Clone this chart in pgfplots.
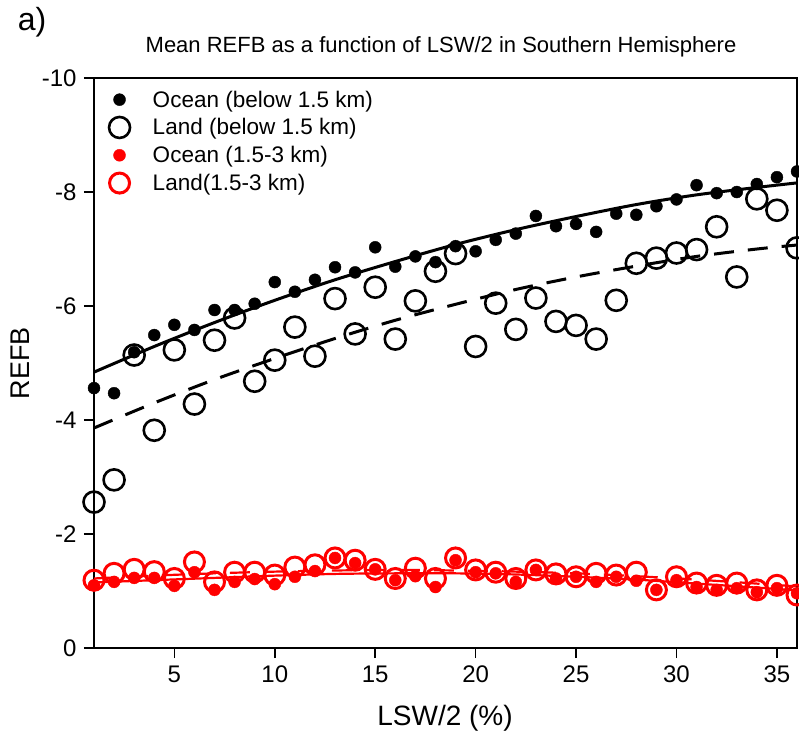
\documentclass[border=0pt]{standalone}
\usepackage{fontspec}
\setmainfont{Liberation Sans}
\usepackage{pgfplots}
\pgfplotsset{compat=1.18}
\usepackage{pgfplotstable}

\pgfplotstableread{
x oc la ocr lar
1 -4.56 -2.56 -1.10 -1.19
2 -4.47 -2.95 -1.16 -1.31
3 -5.19 -5.14 -1.23 -1.38
4 -5.49 -3.82 -1.23 -1.34
5 -5.67 -5.23 -1.09 -1.22
6 -5.58 -4.28 -1.33 -1.51
7 -5.93 -5.40 -1.02 -1.16
8 -5.93 -5.79 -1.16 -1.33
9 -6.04 -4.68 -1.21 -1.33
10 -6.42 -5.05 -1.12 -1.28
11 -6.25 -5.63 -1.25 -1.42
12 -6.46 -5.12 -1.35 -1.46
13 -6.68 -6.13 -1.58 -1.58
14 -6.59 -5.51 -1.49 -1.54
15 -7.03 -6.33 -1.38 -1.38
16 -6.69 -5.42 -1.19 -1.22
17 -6.87 -6.09 -1.26 -1.40
18 -6.77 -6.61 -1.07 -1.22
19 -7.05 -6.92 -1.54 -1.58
20 -6.96 -5.29 -1.33 -1.37
21 -7.16 -6.05 -1.31 -1.33
22 -7.27 -5.59 -1.16 -1.22
23 -7.58 -6.14 -1.37 -1.37
24 -7.40 -5.73 -1.22 -1.30
25 -7.44 -5.66 -1.25 -1.25
26 -7.30 -5.42 -1.16 -1.31
27 -7.62 -6.10 -1.25 -1.28
28 -7.60 -6.75 -1.18 -1.33
29 -7.75 -6.84 -1.02 -1.02
30 -7.87 -6.93 -1.19 -1.25
31 -8.12 -6.99 -1.07 -1.14
32 -7.98 -7.39 -1.02 -1.10
33 -8.00 -6.51 -1.05 -1.14
34 -8.14 -7.88 -0.98 -1.02
35 -8.26 -7.68 -1.05 -1.10
36 -8.36 -7.02 -0.96 -0.93
}\data

\pgfplotstableread{
x ocfit lafit ocrfit larfit
1 -4.84 -3.86 -1.15 -1.22
4 -5.29 -4.30 -1.19 -1.27
7 -5.71 -4.71 -1.23 -1.31
10 -6.10 -5.08 -1.27 -1.34
13 -6.46 -5.43 -1.30 -1.36
16 -6.78 -5.75 -1.31 -1.37
19 -7.08 -6.03 -1.31 -1.36
22 -7.34 -6.29 -1.29 -1.34
25 -7.57 -6.51 -1.25 -1.31
28 -7.78 -6.70 -1.20 -1.26
31 -7.95 -6.87 -1.13 -1.20
34 -8.08 -7.00 -1.06 -1.13
36 -8.16 -7.07 -1.01 -1.08
}\fits

\begin{document}
\begin{tikzpicture}[x=1pt,y=1pt]
\begin{axis}[
  at={(0,0)}, anchor=south west,
  width=703pt, height=570pt, scale only axis,
  xmin=1, xmax=36, ymin=-10, ymax=0,
  y dir=reverse,
  xtick={5,10,...,35},
  ytick={0,-2,-4,-6,-8,-10},
  tick align=outside,
  major tick length=10pt,
  axis line style={line width=1.6pt},
  tick style={line width=1.6pt, black},
  xtick pos=bottom, ytick pos=left,
  /pgf/number format/assume math mode=true,
  tick label style={font=\fontsize{24}{28}\selectfont},
  xticklabel style={yshift=-4pt},
  yticklabel style={xshift=-4pt},
  clip=false,
  legend style={at={(0.015,0.985)}, anchor=north west, draw=none, fill=none,
    font=\fontsize{22.5}{26}\selectfont, row sep=6pt},
  legend cell align=left,
  legend image code/.code={\draw[#1] plot coordinates {(12pt,0pt)}; \node[draw=none, fill=none, inner sep=0pt, minimum width=43pt, minimum height=1pt, anchor=west] at (0pt,0pt) {};},
]
% fit lines
\addplot[black, line width=3pt, no marks, smooth, forget plot] table[x=x, y=ocfit] {\fits};
\addplot[black, line width=3pt, no marks, smooth, dash pattern=on 20pt off 14pt, forget plot] table[x=x, y=lafit] {\fits};
\addplot[red, line width=2.2pt, no marks, smooth, forget plot] table[x=x, y=ocrfit] {\fits};
\addplot[red, line width=2.2pt, no marks, smooth, dash pattern=on 20pt off 14pt, forget plot] table[x=x, y=larfit] {\fits};
% markers
\addplot[only marks, mark=o, mark size=10.5pt, mark options={black, line width=2.6pt}, forget plot] table[x=x, y=la] {\data};
\addplot[only marks, mark=*, mark size=6pt, mark options={black, fill=black, draw=black}, forget plot] table[x=x, y=oc] {\data};
\addplot[only marks, mark=o, mark size=10pt, mark options={red, line width=3pt}, forget plot] table[x=x, y=lar] {\data};
\addplot[only marks, mark=*, mark size=6pt, mark options={red, fill=red, draw=red}, forget plot] table[x=x, y=ocr] {\data};
% legend
\addlegendimage{only marks, mark=*, mark size=6pt, mark options={black, fill=black}}
\addlegendentry{Ocean (below 1.5 km)}
\addlegendimage{only marks, mark=o, mark size=10.5pt, mark options={black, line width=2.6pt}}
\addlegendentry{Land (below 1.5 km)}
\addlegendimage{only marks, mark=*, mark size=6pt, mark options={red, fill=red}}
\addlegendentry{Ocean (1.5-3 km)}
\addlegendimage{only marks, mark=o, mark size=10pt, mark options={red, line width=3pt}}
\addlegendentry{Land(1.5-3 km)}
\end{axis}
\node[font=\fontsize{32}{36}\selectfont] at (-62,626) {a)};
\node[font=\fontsize{22}{26}\selectfont] at (347,601) {Mean REFB as a function of LSW/2 in Southern Hemisphere};
\node[font=\fontsize{28}{32}\selectfont] at (351,-70) {LSW/2 (\%)};
\node[font=\fontsize{27}{31}\selectfont, rotate=90] at (-74,285) {REFB};
\pgfresetboundingbox
\path[use as bounding box] (-94,-92) rectangle (705,648);
\end{tikzpicture}
\end{document}
